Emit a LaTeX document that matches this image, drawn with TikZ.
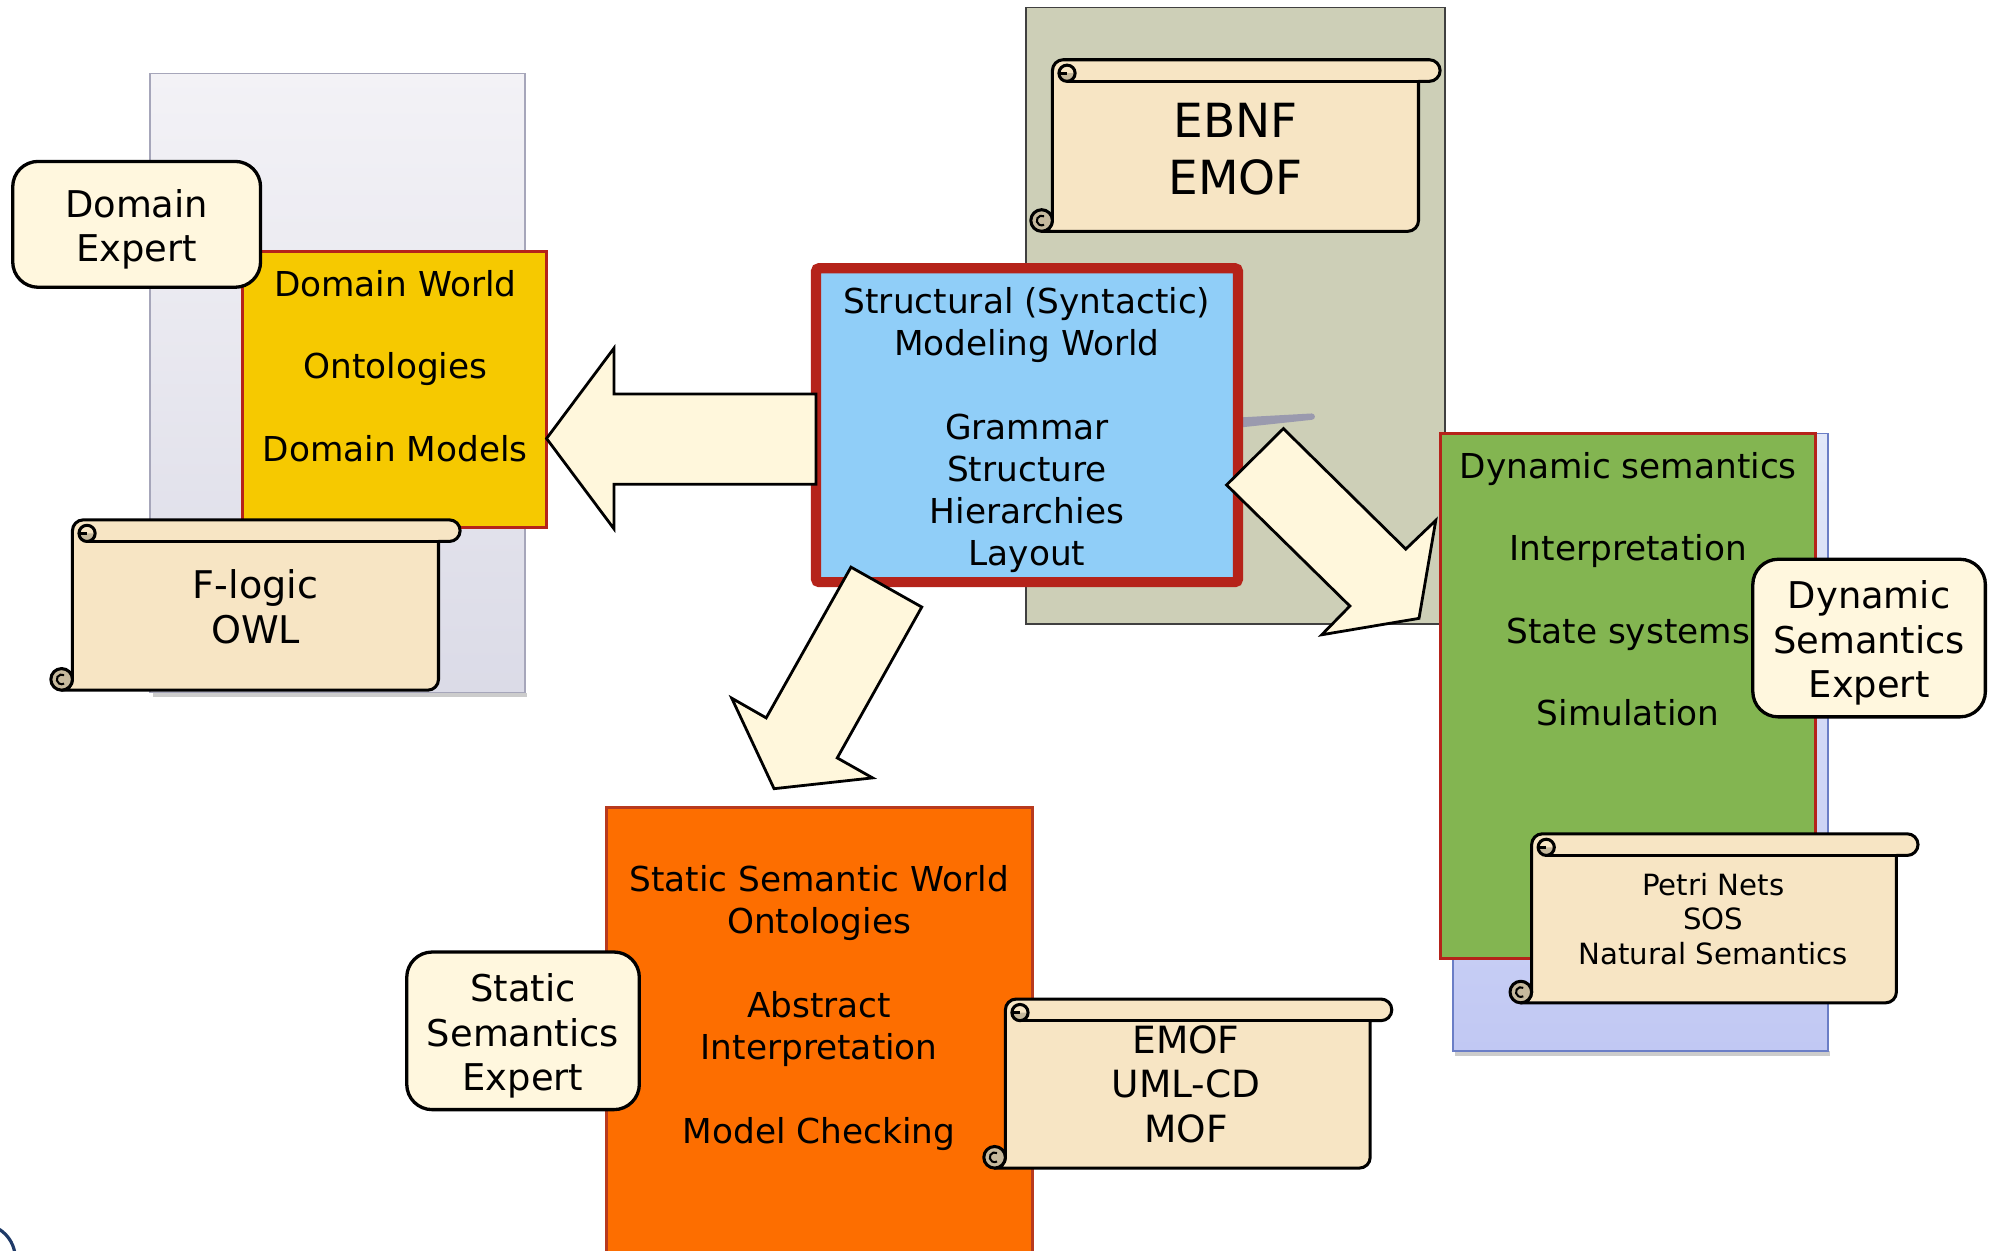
\documentclass[tikz,border=0pt]{standalone}
\usepackage{fontspec}
\setmainfont{DejaVu Sans}
\definecolor{panelTop}{HTML}{F3F2F6}
\definecolor{panelBot}{HTML}{DBDBE7}
\definecolor{panelEdge}{HTML}{A6A6BA}
\definecolor{sage}{HTML}{CDCFB7}
\definecolor{sageEdge}{HTML}{404040}
\definecolor{periTop}{HTML}{E2E8F9}
\definecolor{periBot}{HTML}{C1C8F3}
\definecolor{periEdge}{HTML}{6B7EC6}
\definecolor{worldRed}{HTML}{B5231A}
\definecolor{domYellow}{HTML}{F6C900}
\definecolor{synBlue}{HTML}{90CEF8}
\definecolor{statOrange}{HTML}{FD6E00}
\definecolor{statEdge}{HTML}{B83A1E}
\definecolor{dynGreen}{HTML}{83B551}
\definecolor{arrowFill}{HTML}{FFF7DC}
\definecolor{expertFill}{HTML}{FFF7DE}
\definecolor{scrollFill}{HTML}{F7E5C4}
\definecolor{curlFill}{HTML}{C6B99D}
\definecolor{pointerGray}{HTML}{9A9AAE}
\definecolor{logoNavy}{HTML}{1F3A68}

\def\sr{8.5}
% scroll: body left, body right, top of roll, bottom
\newcommand\drawscroll[4]{%
  \filldraw[scrollline, fill=scrollFill]
    ({#1},{#4-\sr}) -- ({#1},{#3+\sr})
    arc[start angle=180, end angle=270, radius=\sr]
    -- ({#2+\sr},{#3})
    arc[start angle=270, end angle=450, radius=\sr]
    -- ({#2},{#3+2*\sr}) -- ({#2},{#4-\sr})
    arc[start angle=0, end angle=90, radius=\sr]
    -- ({#1-\sr},{#4})
    arc[start angle=90, end angle=0, radius=\sr] -- cycle;
  \draw[scrollline] ({#1+1.35*\sr},{#3+2*\sr}) -- ({#2},{#3+2*\sr});
  % upper curl
  \fill[curlFill] ({#1+0.6*\sr},{#3+1.25*\sr})
    arc[start angle=180, end angle=0, radius=0.75*\sr] -- cycle;
  \draw[scrollline] ({#1+1.35*\sr},{#3+1.25*\sr}) circle[radius=0.75*\sr];
  \draw[scrollline] ({#1+0.6*\sr},{#3+1.25*\sr}) -- ({#1+1.35*\sr},{#3+1.25*\sr});
  % lower curl
  \filldraw[scrollline, fill=curlFill] ({#1-\sr},{#4-\sr}) circle[radius=\sr];
  \draw[line width=1.6] ({#1-\sr},{#4-\sr}) ++(300:0.45*\sr)
    arc[start angle=300, end angle=60, radius=0.45*\sr];
}

\begin{document}
\begin{tikzpicture}[x=1pt, y=-1pt,
  scrollline/.style={draw=black, line width=2.4, line join=round},
  blockarrow/.style={fill=arrowFill, draw=black, line width=2.2, line join=miter},
  expert/.style={fill=expertFill, draw=black, line width=2.6, rounded corners=20},
  txt/.style={align=center, inner sep=0pt, text=black},
  boxfont/.style={font=\fontsize{27}{33}\selectfont}]

\useasboundingbox (0,0) rectangle (1568,984);
\begin{scope}
\clip (0,0) rectangle (1568,984);

% background panels
\fill[black!20] (120,545) rectangle (415,548.5);
\shadedraw[top color=panelTop, bottom color=panelBot, draw=panelEdge, line width=1.2]
  (118,58) rectangle (413,545);
\filldraw[fill=sage, draw=sageEdge, line width=1.2] (807,6) rectangle (1137,491);
\fill[black!20] (1145,827) rectangle (1440,830.5);
\shadedraw[top color=periTop, bottom color=periBot, draw=periEdge, line width=1.2]
  (1143,341) rectangle (1438,827);

% pointer stroke behind the structural box
\fill[pointerGray] (974,328.5) -- (1032,325.3)
  arc[start angle=270, end angle=450, radius=2.5] -- (974,336.5) -- cycle;

% domain world
\filldraw[fill=domYellow, draw=worldRed, line width=2.4] (191,198) rectangle (430,415);
\node[txt, font=\fontsize{27}{65}\selectfont] (domainworld) at (311,288)
  {Domain World\\Ontologies\\Domain Models};
\node[expert, minimum width=195, minimum height=99] (domainexpert) at (107.5,176.5) {};
\node[txt, font=\fontsize{29}{35}\selectfont] (domainexperttxt) at (107.5,180.5)
  {Domain\\Expert};
\drawscroll{57}{345}{409}{543}
\node[txt, font=\fontsize{30}{35}\selectfont] (flogic) at (201,477.5) {F-logic\\OWL};

% syntax tools scroll
\drawscroll{828}{1116}{47}{182}
\node[txt, font=\fontsize{37}{45}\selectfont] (ebnf) at (972,117.5) {EBNF\\EMOF};

% structural modeling world
\filldraw[fill=synBlue, draw=worldRed, line width=8, rounded corners=2.5]
  (642,211) rectangle (974,458);
\node[txt, boxfont] (structural) at (808,338.5)
  {Structural (Syntactic)\\Modeling World\\[33pt]Grammar\\Structure\\Hierarchies\\Layout};

% static semantic world
\filldraw[fill=statOrange, draw=statEdge, line width=2.2] (477,635) rectangle (812,1000);
\node[txt, boxfont] (staticworld) at (644.5,793)
  {Static Semantic World\\Ontologies\\[33pt]Abstract\\Interpretation\\[33pt]Model Checking};
\node[expert, minimum width=183, minimum height=124] (staticexpert) at (411.5,811) {};
\node[txt, font=\fontsize{29}{35}\selectfont] (staticexperttxt) at (411.5,815)
  {Static\\Semantics\\Expert};
\drawscroll{791}{1078}{786}{919}
\node[txt, font=\fontsize{29.5}{35}\selectfont] (emof) at (933,853) {EMOF\\UML-CD\\MOF};

% dynamic semantics world
\filldraw[fill=dynGreen, draw=worldRed, line width=2.4] (1133,341) rectangle (1428,754);
\node[txt, boxfont, font=\fontsize{27}{65}\selectfont] (dynworld) at (1281,463.5)
  {Dynamic semantics\\Interpretation\\State systems\\Simulation};
\node[expert, minimum width=183, minimum height=124] (dynexpert) at (1470.5,502) {};
\node[txt, font=\fontsize{29}{35}\selectfont] (dynexperttxt) at (1470.5,506)
  {Dynamic\\Semantics\\Expert};
\drawscroll{1205}{1492}{656}{789}
\node[txt, font=\fontsize{23}{27}\selectfont] (petri) at (1348,723)
  {Petri Nets\\SOS\\Natural Semantics};

% block arrows out of the structural world
\filldraw[blockarrow] (430,345) -- (483,274) -- (483,310) -- (642,310)
  -- (642,381) -- (483,381) -- (483,416) -- cycle;
\filldraw[blockarrow] (965,381.5) -- (1009.7,337.2) -- (1106,432) -- (1129.6,409.4)
  -- (1116.4,486.5) -- (1039.9,499.4) -- (1062,476.8) -- cycle;
\filldraw[blockarrow] (669.5,446.2) -- (725.2,477.6) -- (658.7,596.3) -- (686.5,612)
  -- (609,620.5) -- (575.7,549.3) -- (602.8,564.8) -- cycle;

% corner emblem
\draw[logoNavy, line width=2.5] (-15,990) circle[radius=27];
\end{scope}
\end{tikzpicture}
\end{document}
